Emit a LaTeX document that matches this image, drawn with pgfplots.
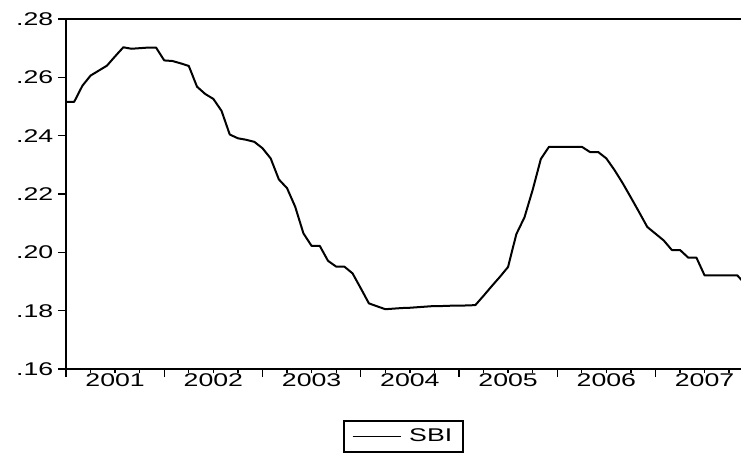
\documentclass[border=0pt]{standalone}
\usepackage{pgfplots}
\pgfplotsset{compat=1.18}
\usepackage{graphicx}
\usepackage{fontspec}
\setmainfont{Liberation Sans}
\newcommand\sx[1]{\scalebox{1.45}[1]{#1}}
\begin{document}
\begin{tikzpicture}
\begin{axis}[
  name=ax, at={(0,0)}, anchor=south west,
  scale only axis, width=506.25pt, height=262.5pt,
  xmin=0, xmax=82.45, ymin=0.16, ymax=0.28,
  axis x line=box, axis y line=left,
  axis line style={-, line width=1.1pt},
  every outer x axis line/.append style={-},
  every outer y axis line/.append style={-},
  tick align=outside, xtick pos=left, ytick pos=left,
  tick style={black, line width=1pt},
  major tick length=6pt, minor tick length=3.2pt,
  ytick={0.16,0.18,0.20,0.22,0.24,0.26,0.28},
  yticklabels={\sx{.16},\sx{.18},\sx{.20},\sx{.22},\sx{.24},\sx{.26},\sx{.28}},
  xtick={0,12,24,36,48,60,72},
  xticklabels={},
  minor xtick={3,6,...,81},
  extra x ticks={6,18,30,42,54,66,78},
  extra x tick labels={\sx{2001},\sx{2002},\sx{2003},\sx{2004},\sx{2005},\sx{2006},\sx{2007}},
  extra x tick style={major tick length=0pt},
  ticklabel style={font=\fontsize{13.8}{16}\selectfont},
  legend style={at={(0.5,-0.147)}, anchor=north, draw=black, line width=1pt,
    font=\fontsize{13.8}{16}\selectfont, inner xsep=6pt, inner ysep=4pt,
    /tikz/every odd column/.append style={column sep=4pt}},
  legend image code/.code={\draw[black, line width=0.8pt] (0pt,0pt) -- (36pt,0pt);},
]
\addplot[black, line width=1.5pt, line join=round] coordinates {
(0,.2516) (1,.2516) (2,.2571) (3,.2606) (4,.2623) (5,.2640) (6,.2672) (7,.2703)
(8,.2698) (9,.2700) (10,.2702) (11,.2702) (12,.2658) (13,.2656) (14,.2648) (15,.2639)
(16,.2568) (17,.2543) (18,.2526) (19,.2485) (20,.2404) (21,.2391) (22,.2386) (23,.2379)
(24,.2357) (25,.2322) (26,.2250) (27,.2220) (28,.2156) (29,.2065) (30,.2022) (31,.2022)
(32,.1971) (33,.1951) (34,.1951) (35,.1928) (36,.1877) (37,.1825) (38,.1815) (39,.1805)
(40,.1807) (41,.1809) (42,.1810) (43,.1812) (44,.1814) (45,.1816) (46,.1816) (47,.1817)
(48,.1817) (49,.1818) (50,.1819) (51,.1851) (52,.1884) (53,.1916) (54,.1950) (55,.2062)
(56,.2120) (57,.2214) (58,.2320) (59,.2362) (60,.2362) (61,.2362) (62,.2362) (63,.2362)
(64,.2344) (65,.2344) (66,.2322) (67,.2282) (68,.2237) (69,.2188) (70,.2138) (71,.2087)
(72,.2064) (73,.2041) (74,.2008) (75,.2008) (76,.1982) (77,.1982) (78,.1921) (79,.1921)
(80,.1921) (81,.1921) (82,.1921) (83,.1890)
};
\addlegendentry{\sx{SBI}}
\end{axis}
\pgfresetboundingbox
\path (-49.5pt,-64.5pt) rectangle (506.25pt,276.75pt);
\end{tikzpicture}
\end{document}
